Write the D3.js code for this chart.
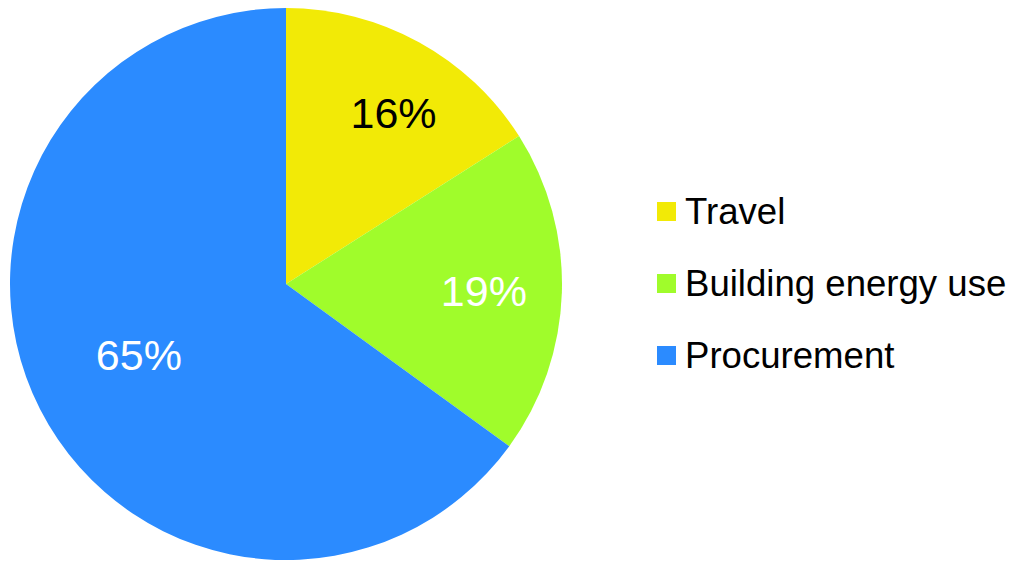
<!DOCTYPE html>
<html>
<head>
<meta charset="utf-8">
<script src="https://cdn.jsdelivr.net/npm/d3@7"></script>
<style>
  html, body { margin: 0; padding: 0; background: #ffffff; }
  svg { display: block; }
</style>
</head>
<body>
<svg id="chart" width="1013" height="563"></svg>
<script>
// Emission sources and their shares (percent)
const categories = ["Travel", "Building energy use", "Procurement"];
const shares = [16, 19, 65];
const sliceColors = ["#f2ea06", "#a0fc2b", "#2b8bff"];
const labelColors = ["#000000", "#ffffff", "#ffffff"];

const width = 1013, height = 563;
const cx = 286, cy = 284, radius = 276;
const fontFamily = "'Liberation Sans', Arial, Helvetica, sans-serif";

// Per-slice label placement: distance from centre and angular nudge (degrees)
const labelPlacement = [
  { dist: 203, nudge: 3.2 },
  { dist: 198, nudge: 0 },
  { dist: 163, nudge: 1.5 }
];

const svg = d3.select("#chart");

const color = d3.scaleOrdinal().domain(categories).range(sliceColors);

const data = categories.map((c, i) => ({ category: c, value: shares[i], idx: i }));

const pie = d3.pie().value(d => d.value).sort(null);
const arcs = pie(data);

const arc = d3.arc().innerRadius(0).outerRadius(radius);

const g = svg.append("g").attr("transform", `translate(${cx},${cy})`);

g.selectAll("path.slice")
  .data(arcs)
  .join("path")
  .attr("class", "slice")
  .attr("d", arc)
  .attr("fill", d => color(d.data.category));

// Percentage labels inside slices
g.selectAll("text.pct")
  .data(arcs)
  .join("text")
  .attr("class", "pct")
  .attr("transform", d => {
    const p = labelPlacement[d.data.idx];
    const a = (d.startAngle + d.endAngle) / 2 + p.nudge * Math.PI / 180;
    return `translate(${p.dist * Math.sin(a)},${-p.dist * Math.cos(a)})`;
  })
  .attr("text-anchor", "middle")
  .attr("dy", "0.37em")
  .attr("font-family", fontFamily)
  .attr("font-size", 43)
  .attr("fill", d => labelColors[d.data.idx])
  .text(d => d.data.value + "%");

// Legend
const legendY = d3.scalePoint().domain(categories).range([224, 368]);
const legend = svg.append("g");

const items = legend.selectAll("g.item")
  .data(categories)
  .join("g")
  .attr("class", "item")
  .attr("transform", d => `translate(0,${legendY(d)})`);

items.append("rect")
  .attr("x", 657)
  .attr("y", -22)
  .attr("width", 19)
  .attr("height", 19)
  .attr("fill", d => color(d));

items.append("text")
  .attr("x", 685)
  .attr("y", 0)
  .attr("font-family", fontFamily)
  .attr("font-size", 36.6)
  .attr("fill", "#000000")
  .text(d => d);
</script>
</body>
</html>
